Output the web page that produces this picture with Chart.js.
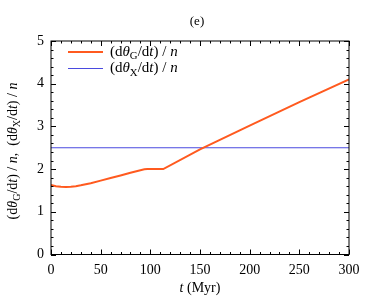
<!DOCTYPE html>
<html>
<head>
<meta charset="utf-8">
<script src="https://cdn.jsdelivr.net/npm/chart.js@4.4.0/dist/chart.umd.min.js"></script>
<style>
  html, body { margin: 0; padding: 0; background: #fff; }
  #wrap { width: 374px; height: 299px; }
</style>
</head>
<body>
<div id="wrap"><canvas id="my" width="374" height="299"></canvas></div>
<script>
// time axis (Myr) and rotation rate ratios
const timeG = [0, 5, 10, 15, 20, 25, 30, 40, 50, 60, 70, 80, 85, 90, 94, 97, 113, 150, 200, 250, 300];
const rateG = [1.63, 1.60, 1.585, 1.58, 1.585, 1.60, 1.62, 1.67, 1.73, 1.79, 1.85, 1.915, 1.945, 1.975, 1.995, 2.0, 2.0, 2.46, 3.02, 3.57, 4.1];
const timeX = [0, 300];
const rateX = [2.5, 2.5];
const xTicks = [0, 50, 100, 150, 200, 250, 300];
const yTicks = [0, 1, 2, 3, 4, 5];

const FONT = '"Liberation Serif", "DejaVu Serif", serif';
const orange = '#ff5a1f';
const blue = '#4a4adf';

// draw a string made of pieces, some italic or subscript
function richText(ctx, parts, x, y, size, align) {
  let w = 0;
  parts.forEach(p => {
    ctx.font = (p.i ? 'italic ' : '') + (p.sub ? size * 0.72 : size) + 'px ' + FONT;
    w += ctx.measureText(p.t).width;
  });
  let cx = align === 'center' ? x - w / 2 : x;
  parts.forEach(p => {
    const s = p.sub ? size * 0.72 : size;
    ctx.font = (p.i ? 'italic ' : '') + s + 'px ' + FONT;
    ctx.fillText(p.t, cx, p.sub ? y + size * 0.28 : y);
    cx += ctx.measureText(p.t).width;
  });
}

const labelG = [{t: '(d'}, {t: 'θ', i: true}, {t: 'G', sub: true}, {t: '/d'}, {t: 't', i: true}, {t: ') / '}, {t: 'n', i: true}];
const labelX = [{t: '(d'}, {t: 'θ', i: true}, {t: 'X', sub: true}, {t: '/d'}, {t: 't', i: true}, {t: ') / '}, {t: 'n', i: true}];

const decorations = {
  id: 'decorations',
  afterDraw(chart) {
    const ctx = chart.ctx;
    const a = chart.chartArea;
    const xs = chart.scales.x, ys = chart.scales.y;
    ctx.save();
    ctx.strokeStyle = '#000';
    ctx.lineWidth = 1;
    ctx.strokeRect(a.left, a.top, a.right - a.left, a.bottom - a.top);
    ctx.beginPath();
    // x ticks, inward, top and bottom
    for (let v = 0; v <= 300; v += 10) {
      const px = Math.round(xs.getPixelForValue(v)) + 0.5;
      const len = v % 50 === 0 ? 5 : 2.5;
      ctx.moveTo(px, a.bottom); ctx.lineTo(px, a.bottom - len);
      ctx.moveTo(px, a.top); ctx.lineTo(px, a.top + len);
    }
    for (let k = 0; k <= 25; k++) {
      const v = k * 0.2;
      const py = Math.round(ys.getPixelForValue(v)) + 0.5;
      const len = k % 5 === 0 ? 5 : 2.5;
      ctx.moveTo(a.left, py); ctx.lineTo(a.left + len, py);
      ctx.moveTo(a.right, py); ctx.lineTo(a.right - len, py);
    }
    ctx.stroke();

    ctx.fillStyle = '#000';
    ctx.textBaseline = 'middle';
    ctx.textAlign = 'left';
    // title
    richText(ctx, [{t: '(e)'}], 197, 22, 13, 'center');
    // x title
    richText(ctx, [{t: 't', i: true}, {t: ' (Myr)'}], (a.left + a.right) / 2, 288, 14, 'center');
    // y title
    ctx.save();
    ctx.translate(13, 151);
    ctx.rotate(-Math.PI / 2);
    richText(ctx, labelG.concat([{t: ',  '}], labelX), 0, 0, 14, 'center');
    ctx.restore();
    // legend
    const rows = [[orange, 2, labelG, 52], [blue, 1, labelX, 68.5]];
    rows.forEach(r => {
      ctx.strokeStyle = r[0];
      ctx.lineWidth = r[1];
      ctx.beginPath();
      ctx.moveTo(68, r[3]); ctx.lineTo(103, r[3]);
      ctx.stroke();
      richText(ctx, r[2], 110, r[3], 15, 'left');
    });
    ctx.restore();
  }
};

new Chart(document.getElementById('my').getContext('2d'), {
  type: 'line',
  data: {
    datasets: [{
      label: 'G',
      data: timeG.map((t, i) => ({x: t, y: rateG[i]})),
      borderColor: orange,
      borderWidth: 2,
      pointRadius: 0,
      tension: 0
    }, {
      label: 'X',
      data: timeX.map((t, i) => ({x: t, y: rateX[i]})),
      borderColor: blue,
      borderWidth: 1,
      pointRadius: 0
    }]
  },
  options: {
    responsive: false,
    animation: false,
    layout: { padding: { top: 41, right: 25, left: 0, bottom: 0 } },
    plugins: { legend: { display: false }, tooltip: { enabled: false } },
    scales: {
      x: {
        type: 'linear', min: 0, max: 300,
        afterBuildTicks: s => { s.ticks = xTicks.map(v => ({value: v})); },
        afterFit: s => { s.height = 44.5; },
        grid: { display: false, drawTicks: false },
        border: { display: false },
        ticks: { color: '#000', padding: 7, font: { family: FONT, size: 14 }, maxRotation: 0 }
      },
      y: {
        min: 0, max: 5,
        afterBuildTicks: s => { s.ticks = yTicks.map(v => ({value: v})); },
        afterFit: s => { s.width = 51; },
        grid: { display: false, drawTicks: false },
        border: { display: false },
        ticks: { color: '#000', padding: 7, font: { family: FONT, size: 14 } }
      }
    }
  },
  plugins: [decorations]
});
</script>
</body>
</html>
